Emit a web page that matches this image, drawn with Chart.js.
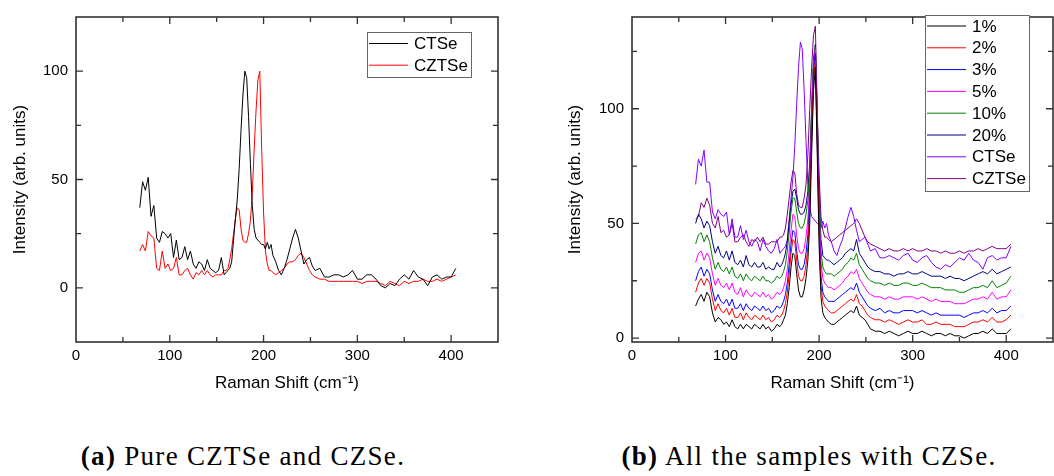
<!DOCTYPE html>
<html>
<head>
<meta charset="utf-8">
<script src="https://cdn.jsdelivr.net/npm/chart.js@4/dist/chart.umd.min.js"></script>
<style>
  html, body { margin: 0; padding: 0; background: #fff; }
  body { width: 1054px; height: 476px; position: relative; overflow: hidden; }
  .panel { position: absolute; top: 0; width: 527px; height: 400px; }
  #panelA { left: 0; }
  #panelB { left: 527px; }
  .caption { position: absolute; top: 441px; font-family: "Liberation Serif", serif; font-size: 27px; letter-spacing: 1.3px; white-space: nowrap; transform: translateX(-50%); color: #000; }
</style>
</head>
<body>
<div class="panel" id="panelA"><canvas id="chartA" width="527" height="400"></canvas></div>
<div class="panel" id="panelB"><canvas id="chartB" width="527" height="400"></canvas></div>
<div class="caption" style="left:243px"><b>(a)</b> Pure CZTSe and CZSe.</div>
<div class="caption" style="left:809px"><b>(b)</b> All the samples with CZSe.</div>
<script>
// Raman shift grid (cm-1), shared by every spectrum
const shift = [
  68, 71, 74, 77, 80, 83, 86, 89, 92, 95, 98, 101, 104, 107, 110, 113, 116, 119, 122, 125, 128, 131, 134, 137, 140, 143, 146, 149, 152, 155, 158,
  160, 162, 164, 166, 168, 170, 172, 174, 176, 178, 180, 182, 184, 186, 188, 190, 192, 194, 196, 198, 200, 202, 204, 206, 208, 210,
  213, 216, 219, 222, 225, 228, 231, 234, 237, 240, 243, 246, 249, 252,
  255, 260, 265, 270, 275, 280, 285, 290, 295, 300, 305, 310, 315, 320, 325, 330, 335, 340, 345, 350, 355, 360, 365, 370, 375, 380, 385, 390, 395, 400, 405
];

// (a) pure phases
const ctseA = [
  37, 49, 45, 51, 33, 38, 23, 21, 26, 25, 23, 25, 14, 22, 13, 14, 19, 13, 17, 11, 9, 12, 11, 8, 13, 9, 8, 7, 8, 14, 6,
  7, 8, 9, 12, 22, 32, 41, 55, 73, 89, 100, 97, 79, 57, 38, 27, 23, 22, 21, 20, 20, 18, 21, 18, 20, 15,
  12, 8, 6, 9, 13, 18, 23, 27, 23, 17, 11, 13, 14, 10,
  8, 9, 5, 5, 6, 6, 5, 6, 8, 4, 4, 6, 6, 4, 1, 0, 2, 1, 4, 6, 4, 8, 5, 4, 1, 5, 6, 4, 5, 5, 9
];
const cztseA = [
  17, 20, 17, 26, 24, 23, 9, 8, 17, 9, 11, 8, 9, 14, 6, 6, 8, 9, 6, 4, 7, 6, 8, 6, 8, 6, 5, 6, 6, 6, 8,
  8, 9, 13, 18, 25, 32, 37, 36, 27, 22, 21, 21, 25, 31, 44, 64, 82, 96, 100, 64, 35, 17, 11, 8, 8, 7,
  6, 7, 8, 9, 11, 12, 12, 13, 15, 16, 14, 11, 8, 6,
  5, 4, 4, 3, 3, 3, 3, 3, 3, 3, 2, 3, 3, 3, 2, 1, 3, 2, 1, 3, 2, 3, 3, 4, 3, 3, 4, 3, 4, 5, 6
];

// (b) all samples, stacked
const s1 = [
  14, 17, 19, 16, 20, 18, 11, 7, 9, 8, 6, 7, 5, 8, 5, 4, 6, 4, 6, 5, 4, 6, 5, 4, 6, 4, 5, 3, 4, 6, 5,
  6, 8, 10, 15, 22, 31, 37, 36, 28, 21, 18, 18, 21, 26, 34, 50, 80, 108, 118, 80, 40, 18, 11, 9, 8, 7,
  6, 6, 7, 8, 9, 10, 11, 12, 11, 14, 10, 9, 8, 6,
  4, 3, 3, 2, 3, 2, 1, 2, 3, 2, 2, 3, 2, 1, 2, 2, 1, 2, 1, 1, 0, 1, 2, 2, 3, 2, 4, 2, 2, 2, 4
];
const s2 = [
  20, 24, 26, 23, 26, 24, 17, 12, 15, 12, 11, 13, 10, 13, 9, 9, 11, 8, 11, 9, 8, 10, 9, 8, 10, 8, 9, 7, 8, 10, 9,
  10, 12, 15, 20, 28, 37, 43, 42, 34, 27, 25, 25, 27, 32, 40, 56, 86, 112, 121, 84, 45, 23, 16, 14, 13, 12,
  11, 11, 12, 13, 14, 15, 16, 17, 16, 19, 15, 14, 12, 10,
  9, 8, 8, 7, 8, 7, 6, 7, 8, 7, 7, 8, 6, 6, 7, 6, 6, 6, 5, 5, 5, 6, 7, 7, 8, 7, 9, 7, 7, 8, 10
];
const s3 = [
  25, 29, 31, 27, 30, 28, 21, 16, 19, 16, 15, 17, 14, 17, 13, 13, 15, 12, 15, 13, 12, 14, 13, 12, 14, 12, 13, 11, 12, 14, 13,
  14, 16, 19, 24, 32, 41, 47, 46, 38, 32, 30, 30, 32, 37, 45, 61, 90, 115, 124, 88, 50, 27, 20, 18, 17, 16,
  16, 16, 17, 18, 19, 20, 21, 22, 21, 24, 20, 18, 16, 14,
  13, 12, 13, 11, 12, 11, 11, 12, 12, 12, 11, 12, 11, 10, 11, 10, 10, 10, 10, 10, 9, 10, 11, 11, 12, 11, 13, 11, 12, 12, 14
];
const s5 = [
  33, 37, 38, 34, 37, 35, 28, 23, 26, 23, 22, 24, 21, 24, 20, 19, 22, 18, 21, 19, 18, 20, 19, 18, 20, 18, 19, 17, 18, 20, 19,
  20, 22, 25, 30, 38, 47, 54, 53, 45, 39, 37, 37, 39, 44, 52, 67, 95, 118, 126, 92, 55, 33, 26, 24, 23, 22,
  22, 21, 22, 23, 24, 26, 27, 29, 28, 30, 26, 24, 22, 20,
  19, 18, 18, 17, 18, 17, 17, 18, 18, 18, 17, 18, 17, 16, 17, 16, 16, 16, 15, 15, 15, 16, 17, 17, 18, 17, 20, 17, 18, 18, 21
];
const s10 = [
  41, 45, 46, 42, 45, 42, 35, 30, 33, 30, 29, 31, 28, 31, 27, 26, 28, 25, 28, 26, 25, 27, 26, 25, 27, 25, 25, 24, 25, 27, 26,
  27, 29, 32, 38, 46, 55, 61, 61, 55, 50, 48, 48, 50, 54, 60, 73, 98, 120, 127, 95, 60, 38, 31, 29, 28, 28,
  28, 27, 28, 29, 30, 32, 33, 35, 34, 37, 32, 30, 28, 26,
  25, 24, 24, 23, 24, 23, 23, 24, 24, 23, 23, 24, 23, 22, 22, 22, 21, 21, 21, 20, 20, 21, 22, 22, 23, 22, 25, 22, 23, 24, 27
];
const s20 = [
  50, 54, 52, 48, 51, 49, 42, 37, 40, 36, 35, 38, 34, 38, 33, 32, 34, 31, 36, 32, 31, 33, 31, 31, 33, 30, 31, 30, 30, 33, 31,
  32, 34, 37, 42, 50, 58, 64, 65, 61, 56, 54, 54, 55, 58, 64, 77, 101, 122, 128, 98, 64, 43, 36, 35, 34, 34,
  33, 32, 33, 34, 35, 37, 38, 39, 38, 43, 37, 35, 33, 31,
  30, 29, 29, 28, 28, 27, 28, 28, 29, 28, 28, 29, 28, 27, 27, 27, 26, 27, 26, 26, 25, 26, 27, 28, 29, 28, 30, 28, 29, 30, 31
];
const ctseB = [
  67, 78, 75, 82, 68, 68, 55, 52, 56, 54, 53, 55, 45, 52, 44, 44, 49, 43, 47, 42, 40, 43, 42, 38, 43, 40, 38, 37, 39, 43, 37,
  38, 39, 40, 43, 52, 61, 70, 84, 102, 118, 129, 126, 108, 86, 67, 57, 53, 52, 51, 50, 50, 48, 51, 48, 50, 45,
  42, 38, 36, 40, 43, 48, 53, 57, 53, 47, 42, 43, 44, 41,
  38, 39, 35, 35, 36, 35, 34, 36, 37, 34, 33, 35, 36, 33, 31, 30, 32, 31, 33, 35, 34, 37, 34, 33, 30, 35, 36, 34, 35, 35, 40
];
const cztseB = [
  52, 53, 59, 57, 61, 58, 50, 48, 53, 46, 47, 44, 45, 50, 42, 42, 44, 45, 42, 40, 43, 42, 44, 42, 44, 41, 41, 42, 42, 42, 44,
  44, 45, 48, 54, 61, 68, 73, 72, 63, 58, 57, 57, 61, 67, 80, 100, 118, 132, 136, 100, 71, 53, 47, 44, 44, 43,
  42, 43, 44, 45, 46, 47, 48, 49, 50, 52, 50, 47, 44, 42,
  41, 40, 39, 38, 39, 38, 38, 39, 38, 39, 38, 38, 39, 38, 38, 37, 38, 37, 37, 38, 37, 38, 38, 39, 38, 39, 40, 39, 39, 39, 41
];

const labelsA = ["CTSe", "CZTSe"];
const colorsA = ["#000000", "#ff0000"];
const seriesA = [ctseA, cztseA];

const labelsB = ["1%", "2%", "3%", "5%", "10%", "20%", "CTSe", "CZTSe"];
const colorsB = ["#000000", "#ff0000", "#0000ff", "#ff00ff", "#008000", "#000080", "#8000ff", "#800080"];
const seriesB = [s1, s2, s3, s5, s10, s20, ctseB, cztseB];

const xMajor = [0, 100, 200, 300, 400];
const xMinor = [50, 150, 250, 350, 450];
const yMajor = [0, 50, 100];
const yMinor = [-25, 25, 75, 125];

Chart.defaults.font.family = "'Liberation Sans', Arial, sans-serif";
Chart.defaults.color = "#000";

// box with inward ticks on all four sides
const framePlugin = {
  id: "frame",
  afterDatasetsDraw(chart) {
    const { ctx, chartArea: a, scales: { x, y } } = chart;
    ctx.save();
    ctx.strokeStyle = "#333";
    ctx.lineWidth = 1.6;
    ctx.strokeRect(a.left, a.top, a.right - a.left, a.bottom - a.top);
    ctx.lineWidth = 1.3;
    ctx.beginPath();
    const xt = (vals, len) => vals.forEach((v) => {
      const p = x.getPixelForValue(v);
      if (p < a.left + 1 || p > a.right - 1) return;
      ctx.moveTo(p, a.bottom); ctx.lineTo(p, a.bottom - len);
      ctx.moveTo(p, a.top); ctx.lineTo(p, a.top + len);
    });
    const yt = (vals, len) => vals.forEach((v) => {
      const p = y.getPixelForValue(v);
      if (p < a.top + 1 || p > a.bottom - 1) return;
      ctx.moveTo(a.left, p); ctx.lineTo(a.left + len, p);
      ctx.moveTo(a.right, p); ctx.lineTo(a.right - len, p);
    });
    xt(xMajor, 7); xt(xMinor, 5);
    yt(yMajor, 7); yt(yMinor, 5);
    ctx.stroke();
    ctx.restore();
  }
};

// legend box drawn inside the plot
const boxLegendPlugin = {
  id: "boxLegend",
  afterDraw(chart, args, o) {
    const ctx = chart.ctx;
    ctx.save();
    ctx.fillStyle = "#fff";
    ctx.fillRect(o.left, o.top, o.width, o.height);
    ctx.strokeStyle = "#666";
    ctx.lineWidth = 1;
    ctx.strokeRect(o.left + 0.5, o.top + 0.5, o.width, o.height);
    ctx.font = "17px 'Liberation Sans', Arial, sans-serif";
    ctx.textBaseline = "middle";
    chart.data.datasets.forEach((ds, i) => {
      const yy = o.top + o.first + i * o.row;
      ctx.strokeStyle = ds.borderColor;
      ctx.beginPath();
      ctx.moveTo(o.left + 2, yy);
      ctx.lineTo(o.left + 2 + o.sample, yy);
      ctx.stroke();
      ctx.fillStyle = "#000";
      ctx.fillText(ds.label, o.left + o.textX, yy + 1);
    });
    ctx.restore();
  }
};

function makeChart(id, labels, colors, series, yMin, yMax, pad, yWidth, titlePad, legend) {
  return new Chart(document.getElementById(id), {
    type: "line",
    data: {
      datasets: series.map((vals, i) => ({
        label: labels[i],
        data: shift.map((s, k) => ({ x: s, y: vals[k] })),
        borderColor: colors[i],
        borderWidth: 1,
        pointRadius: 0,
        tension: 0,
        fill: false,
      })),
    },
    options: {
      responsive: false,
      animation: false,
      layout: { padding: pad },
      plugins: { legend: { display: false }, tooltip: { enabled: false }, boxLegend: legend },
      scales: {
        x: {
          type: "linear",
          min: 0,
          max: 450,
          afterBuildTicks: (s) => { s.ticks = xMajor.map((v) => ({ value: v })); },
          afterFit: (s) => { s.height = 58; },
          grid: { display: false, drawTicks: false },
          border: { display: false },
          ticks: { padding: 5, font: { size: 15 }, maxRotation: 0 },
          title: { display: true, text: "Raman Shift (cm\u207B\u00B9)", font: { size: 17 }, padding: { top: 0, bottom: 6 } },
        },
        y: {
          min: yMin,
          max: yMax,
          afterBuildTicks: (s) => { s.ticks = yMajor.map((v) => ({ value: v })); },
          afterFit: (s) => { s.width = yWidth; },
          grid: { display: false, drawTicks: false },
          border: { display: false },
          ticks: { padding: 8, font: { size: 15 } },
          title: { display: true, text: "Intensity (arb. units)", font: { size: 17 }, padding: { top: titlePad, bottom: 0 } },
        },
      },
    },
    plugins: [framePlugin, boxLegendPlugin],
  });
}

makeChart("chartA", labelsA, colorsA, seriesA, -25, 125,
  { left: 0, top: 2, right: 29, bottom: 0 }, 76, 10,
  { left: 367, top: 32, width: 104, height: 45, first: 11.5, row: 21.7, sample: 39, textX: 47 });

makeChart("chartB", labelsB, colorsB, seriesB, -1.7, 140,
  { left: 0, top: 2, right: 1, bottom: 0 }, 105, 38,
  { left: 398, top: 15, width: 104, height: 176, first: 11, row: 21.8, sample: 39, textX: 47 });
</script>
</body>
</html>
